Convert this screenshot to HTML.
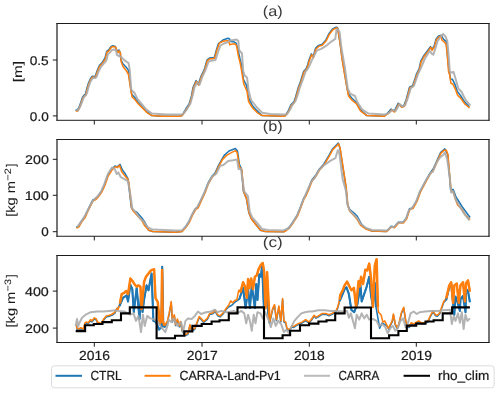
<!DOCTYPE html><html><head><meta charset="utf-8"><style>html,body{margin:0;padding:0;background:#fff;overflow:hidden}svg{display:block}text{text-rendering:geometricPrecision}</style></head><body><svg width="500" height="394" viewBox="0 0 500 394" font-family="Liberation Sans, sans-serif">
<rect width="500" height="394" fill="#fff"/>
<path d="M75.5,109.8 L77.0,110.5 L78.8,107.7 L80.7,102.8 L82.5,97.3 L84.3,94.9 L85.5,94.3 L86.8,88.8 L88.6,82.7 L90.4,78.7 L92.2,76.2 L94.1,76.6 L95.3,76.2 L97.1,70.7 L99.5,65.2 L102.0,62.8 L105.0,58.0 L106.8,51.2 L108.7,50.0 L111.1,46.4 L112.9,45.8 L115.4,46.4 L116.6,50.0 L117.8,51.9 L119.0,50.0 L120.2,52.5 L120.9,59.9 L122.7,63.4 L126.2,67.3 L128.2,69.9 L129.9,82.1 L131.7,94.2 L134.9,97.8 L138.1,102.5 L142.1,106.8 L146.9,111.7 L151.7,115.6 L161.3,116.3 L179.7,116.2 L181.9,115.6 L185.9,108.8 L189.1,104.0 L191.5,96.0 L193.1,87.2 L196.1,80.6 L198.3,84.4 L201.1,76.0 L204.3,69.6 L207.0,60.0 L209.4,58.1 L214.3,57.5 L216.7,49.0 L218.5,43.5 L223.0,40.0 L228.0,38.2 L229.2,38.8 L231.0,41.5 L234.4,42.1 L236.2,43.1 L238.1,50.1 L239.9,58.4 L241.1,62.9 L243.5,79.5 L246.7,85.8 L248.3,97.1 L252.3,105.6 L257.1,110.9 L261.9,115.6 L284.3,116.2 L285.3,115.6 L288.5,110.4 L290.9,104.8 L294.1,101.6 L295.7,96.8 L298.1,88.0 L300.5,81.6 L303.7,71.2 L306.1,68.8 L307.7,64.8 L308.8,60.6 L311.3,53.9 L313.1,57.0 L315.5,48.4 L318.6,45.4 L322.2,44.2 L325.9,39.9 L328.9,33.8 L332.6,28.9 L336.2,27.1 L337.5,27.7 L339.9,41.6 L341.9,57.0 L344.3,71.0 L346.7,86.0 L348.3,93.8 L351.5,97.8 L356.3,102.5 L360.3,109.6 L366.7,115.6 L384.3,116.3 L384.7,115.6 L387.9,112.8 L391.1,109.1 L394.3,111.2 L398.3,103.2 L401.5,106.4 L403.9,105.6 L406.3,99.2 L409.5,87.2 L412.7,85.6 L415.1,78.4 L416.7,73.6 L419.1,68.8 L420.8,61.2 L423.8,55.7 L427.5,50.8 L430.5,46.6 L431.8,49.6 L434.2,46.0 L436.0,39.2 L438.5,36.0 L441.2,35.2 L443.6,39.4 L446.1,41.3 L448.2,64.0 L449.3,72.5 L450.6,78.9 L452.5,79.3 L454.9,84.3 L457.3,91.5 L460.5,95.5 L464.5,101.8 L469.3,106.7" fill="none" stroke="#1f77b4" stroke-width="1.55" stroke-linejoin="round" stroke-linecap="butt"/>
<path d="M76.1,227.4 L78.5,226.3 L81.7,220.7 L84.9,216.7 L87.3,211.1 L90.5,204.7 L92.9,199.9 L95.3,199.1 L97.7,196.7 L101.7,191.1 L104.9,183.9 L107.7,175.7 L111.7,169.3 L114.9,166.1 L117.3,166.9 L118.0,166.0 L120.0,164.4 L122.4,170.0 L125.0,173.5 L128.0,178.8 L130.9,203.7 L131.4,207.6 L133.8,211.3 L136.6,212.0 L141.5,217.4 L144.5,221.7 L148.5,230.2 L152.7,231.5 L174.7,232.2 L181.9,231.5 L185.9,226.3 L189.1,221.5 L192.3,214.3 L195.5,208.7 L197.9,207.1 L201.1,199.9 L204.7,192.3 L207.9,183.5 L211.9,176.3 L215.1,173.1 L218.3,165.9 L222.3,158.7 L224.2,155.4 L229.0,151.0 L235.4,148.5 L237.5,151.0 L239.4,164.2 L241.5,169.1 L243.4,191.1 L246.4,198.4 L248.8,212.5 L251.3,218.6 L255.6,224.1 L260.4,230.2 L265.3,231.5 L283.6,231.7 L285.3,231.0 L289.3,227.1 L293.3,221.5 L297.3,215.1 L300.5,207.1 L303.7,198.3 L305.3,195.9 L308.2,189.5 L311.9,179.9 L315.9,175.1 L319.1,169.5 L323.9,163.9 L328.7,155.9 L332.7,148.7 L335.9,145.5 L338.3,143.1 L339.9,147.9 L343.1,168.7 L346.0,187.3 L347.6,205.2 L349.8,209.5 L353.5,212.5 L357.1,216.0 L362.0,225.0 L365.3,228.3 L371.4,230.9 L386.0,231.5 L387.9,230.2 L391.1,226.3 L394.3,227.1 L398.3,222.3 L403.1,222.3 L406.3,218.3 L409.5,208.7 L412.7,207.9 L416.7,200.7 L420.2,191.3 L424.5,183.1 L429.3,174.3 L433.3,168.7 L437.3,159.9 L440.5,152.7 L444.8,148.9 L447.7,154.3 L449.3,173.5 L450.7,189.6 L453.2,189.6 L456.0,197.0 L462.0,206.5 L466.0,212.0 L470.1,217.5" fill="none" stroke="#1f77b4" stroke-width="1.55" stroke-linejoin="round" stroke-linecap="butt"/>
<path d="M76.4,325.6 L77.0,329.3 L78.8,330.0 L80.7,328.7 L83.2,330.0 L85.1,323.7 L86.3,323.1 L88.2,323.7 L90.7,320.6 L91.9,321.9 L94.4,318.8 L96.3,320.0 L97.5,323.1 L99.4,323.7 L101.2,324.4 L103.7,320.0 L106.2,316.9 L109.3,316.3 L112.4,315.0 L114.9,313.2 L116.5,309.5 L119.5,306.0 L123.0,297.8 L126.7,295.3 L128.0,301.5 L130.4,284.7 L132.3,289.1 L133.8,312.0 L136.7,287.9 L139.5,319.0 L141.0,294.0 L142.5,312.0 L144.0,300.0 L146.6,285.4 L148.5,290.3 L151.6,273.5 L153.4,320.9 L156.0,322.0 L159.0,329.6 L161.5,327.1 L162.2,266.7 L163.3,326.0 L165.0,327.0 L167.5,321.9 L169.4,313.2 L171.2,302.6 L172.5,321.9 L174.3,315.7 L175.6,325.6 L177.4,320.0 L179.3,326.9 L180.5,322.5 L182.4,331.8 L185.5,335.6 L188.0,334.3 L189.9,325.6 L191.7,331.2 L194.9,329.3 L198.0,320.6 L199.2,317.5 L201.7,320.0 L203.6,322.5 L207.3,319.4 L209.8,314.4 L212.9,313.8 L215.1,311.3 L217.6,315.7 L220.1,316.9 L223.2,313.8 L225.7,310.1 L228.5,307.0 L231.9,305.3 L235.0,302.0 L239.4,299.0 L243.1,287.9 L245.6,308.0 L248.1,289.1 L249.9,308.0 L251.8,285.4 L254.9,308.0 L256.2,284.1 L257.5,300.0 L259.3,274.2 L260.9,276.7 L262.1,265.5 L264.0,310.0 L266.5,289.1 L267.7,308.0 L269.6,323.0 L272.7,309.4 L274.5,305.7 L276.4,320.6 L278.9,307.0 L280.8,321.9 L282.6,299.5 L283.9,321.9 L285.7,323.1 L287.0,329.3 L289.5,330.6 L292.0,326.9 L293.8,327.5 L296.3,325.6 L298.8,324.4 L301.9,323.1 L305.6,320.6 L309.0,323.1 L311.6,320.0 L314.1,316.3 L316.0,318.1 L318.4,316.9 L322.2,314.4 L325.9,314.4 L329.0,315.7 L332.1,314.4 L335.9,311.9 L337.7,308.2 L339.6,301.0 L341.4,297.0 L344.6,289.1 L346.4,287.2 L348.9,294.1 L351.4,310.0 L354.2,312.2 L357.4,304.0 L360.5,285.4 L361.7,301.5 L366.7,286.6 L369.2,276.7 L371.0,295.3 L372.9,306.0 L374.8,282.9 L376.0,307.0 L379.7,328.3 L382.0,323.0 L386.6,325.6 L389.1,329.6 L390.3,325.6 L392.2,321.9 L393.4,315.0 L395.3,325.0 L397.2,328.7 L399.0,324.4 L401.5,313.2 L403.7,308.2 L405.6,320.6 L406.8,326.9 L409.3,327.5 L411.2,323.7 L413.7,325.0 L416.2,323.1 L418.7,321.9 L421.1,323.7 L424.9,323.7 L428.0,321.9 L430.5,316.3 L433.0,311.9 L435.4,315.7 L437.3,316.3 L439.8,313.8 L441.7,308.2 L443.7,302.5 L446.2,300.0 L449.3,287.0 L451.2,284.0 L453.1,303.0 L454.3,314.7 L455.5,296.6 L457.0,300.0 L459.9,310.9 L460.5,299.0 L463.0,296.0 L465.5,312.2 L466.1,289.1 L468.0,291.0 L469.9,302.2" fill="none" stroke="#1f77b4" stroke-width="1.55" stroke-linejoin="round" stroke-linecap="butt"/>
<path d="M75.8,110.6 L77.3,111.3 L79.1,108.5 L81.0,103.6 L82.8,98.1 L84.6,95.7 L85.8,95.1 L87.1,89.6 L88.9,83.5 L90.7,79.5 L92.5,77.0 L94.4,77.4 L95.6,77.0 L97.4,71.5 L99.8,66.0 L102.3,63.6 L105.3,58.8 L107.1,52.0 L109.0,50.8 L111.4,47.2 L113.2,46.6 L115.7,47.2 L116.9,50.8 L118.1,52.7 L119.3,50.8 L120.5,53.3 L121.2,61.8 L123.0,66.5 L126.5,71.0 L128.5,74.5 L130.2,86.0 L132.0,96.8 L135.2,100.0 L138.4,104.0 L142.4,108.0 L147.2,112.8 L152.0,115.6 L161.6,116.3 L180.0,116.2 L182.2,115.6 L186.2,109.6 L189.4,104.8 L191.8,96.8 L193.4,88.0 L196.4,81.4 L198.6,85.2 L201.4,76.8 L204.6,70.4 L207.3,60.8 L209.7,58.9 L214.6,58.3 L217.0,49.8 L219.5,43.1 L223.1,41.3 L226.2,40.7 L228.6,40.7 L229.8,44.9 L231.1,44.3 L234.7,43.7 L236.5,45.5 L238.4,55.9 L240.2,63.2 L241.4,69.6 L243.8,84.0 L247.0,91.2 L248.6,101.6 L252.6,108.0 L257.4,112.8 L262.2,115.6 L284.6,116.2 L285.6,115.6 L288.8,111.2 L291.2,105.6 L294.4,102.4 L296.0,97.6 L298.4,88.8 L300.8,82.4 L304.0,72.0 L306.4,69.6 L308.0,65.6 L309.1,61.4 L311.6,54.7 L313.4,57.8 L315.8,49.2 L318.9,46.2 L322.5,45.0 L326.2,40.7 L329.2,34.6 L332.9,29.7 L336.5,27.9 L337.8,28.5 L340.2,44.4 L342.2,60.0 L344.6,74.4 L347.0,88.0 L348.6,96.0 L351.8,100.0 L356.6,104.0 L360.6,111.2 L367.0,115.6 L384.6,116.3 L385.0,115.6 L388.2,113.6 L391.4,109.9 L394.6,112.0 L398.6,104.0 L401.8,107.2 L404.2,106.4 L406.6,100.0 L409.8,88.0 L413.0,86.4 L415.4,79.2 L417.0,74.4 L419.4,69.6 L421.1,62.0 L424.1,56.5 L427.8,51.6 L430.8,47.4 L432.1,50.4 L434.5,46.8 L436.3,40.0 L438.8,37.0 L441.2,35.8 L441.8,40.0 L444.2,41.9 L446.1,44.3 L447.3,54.7 L448.5,71.0 L449.6,74.4 L450.9,83.2 L452.8,84.0 L455.2,88.8 L457.6,95.2 L460.8,98.4 L464.8,104.0 L469.6,108.0" fill="none" stroke="#ff7f0e" stroke-width="1.55" stroke-linejoin="round" stroke-linecap="butt"/>
<path d="M76.4,228.1 L78.8,227.0 L82.0,221.4 L85.2,217.4 L87.6,211.8 L90.8,205.4 L93.2,200.6 L95.6,199.8 L98.0,197.4 L102.0,191.8 L105.2,184.6 L108.0,176.4 L112.0,170.0 L115.2,166.8 L117.6,167.6 L119.5,165.2 L121.6,171.6 L124.0,174.8 L128.0,179.6 L128.8,182.0 L131.2,204.4 L131.7,208.3 L134.1,212.0 L138.4,216.8 L141.5,219.9 L144.5,225.4 L148.8,230.2 L153.0,231.5 L175.0,232.2 L182.2,231.5 L186.2,227.0 L189.4,222.2 L192.6,215.0 L195.8,209.4 L198.2,207.8 L201.4,200.6 L205.0,193.0 L208.2,184.2 L212.2,177.0 L215.4,173.8 L218.6,166.6 L222.6,159.4 L226.6,155.4 L231.4,152.6 L235.4,150.6 L237.0,152.2 L239.4,166.6 L241.8,169.8 L243.7,191.8 L246.7,199.1 L249.1,213.2 L251.6,219.3 L255.9,224.8 L260.7,230.2 L265.6,231.5 L283.9,231.7 L285.6,231.0 L289.6,227.8 L293.6,222.2 L297.6,215.8 L300.8,207.8 L304.0,199.0 L305.6,196.6 L308.5,190.2 L312.2,180.6 L316.2,175.8 L319.4,170.2 L324.2,164.6 L329.0,156.6 L333.0,149.4 L336.2,146.2 L338.6,143.8 L340.2,148.6 L343.4,169.4 L346.3,188.0 L347.9,205.9 L349.8,211.3 L353.4,215.0 L357.1,219.3 L360.7,225.4 L365.6,229.0 L371.7,230.9 L386.3,231.5 L388.2,230.2 L391.4,227.0 L394.6,227.8 L398.6,223.0 L403.4,223.0 L406.6,219.0 L409.8,209.4 L413.0,208.6 L417.0,201.4 L420.5,192.0 L424.8,183.8 L429.6,175.0 L433.6,169.4 L437.6,160.6 L440.8,153.4 L444.0,150.2 L446.4,150.2 L448.0,155.0 L449.6,174.2 L451.0,190.3 L453.2,191.8 L455.4,199.1 L457.6,205.0 L462.0,209.4 L465.0,214.6 L470.1,219.7" fill="none" stroke="#ff7f0e" stroke-width="1.55" stroke-linejoin="round" stroke-linecap="butt"/>
<path d="M76.4,324.6 L77.0,328.3 L78.8,329.0 L80.7,327.7 L83.2,329.0 L85.1,322.7 L86.3,322.1 L88.2,322.7 L90.7,319.6 L91.9,320.9 L94.4,317.8 L96.3,319.0 L97.5,322.1 L99.4,322.7 L101.2,323.4 L103.7,319.0 L106.2,315.9 L109.3,315.3 L112.4,314.0 L114.9,312.2 L116.8,308.4 L118.0,309.7 L119.9,303.5 L121.7,294.1 L124.2,292.8 L126.1,291.0 L128.0,294.1 L130.4,278.5 L132.9,281.6 L134.8,284.7 L136.7,286.6 L138.5,285.4 L140.4,286.6 L141.6,309.1 L144.1,281.6 L146.0,276.7 L148.5,273.5 L151.0,270.4 L154.1,269.2 L155.5,298.0 L157.8,302.2 L159.7,323.4 L161.5,321.0 L162.1,270.0 L162.7,321.0 L164.6,325.9 L167.5,320.9 L169.4,312.2 L171.2,301.6 L172.5,320.9 L174.3,314.7 L175.6,324.6 L177.4,319.0 L179.3,325.9 L180.5,321.5 L182.4,330.8 L185.5,334.6 L188.0,333.3 L189.9,324.6 L191.7,330.2 L194.9,328.3 L198.0,319.6 L199.2,316.5 L201.7,319.0 L203.6,321.5 L207.3,318.4 L209.8,313.4 L212.9,312.8 L215.1,310.3 L217.6,314.7 L220.1,315.9 L223.2,312.8 L225.7,309.1 L228.5,305.5 L230.7,300.9 L232.5,302.8 L235.0,300.3 L236.9,299.7 L238.7,290.3 L240.6,291.6 L243.1,282.3 L245.0,286.6 L246.8,297.8 L248.1,279.1 L249.3,287.9 L251.2,278.5 L253.0,289.1 L254.9,276.7 L256.8,275.4 L258.6,269.2 L260.9,264.8 L262.7,263.0 L264.0,270.4 L265.5,308.0 L267.1,272.3 L269.6,322.1 L272.7,308.4 L274.5,304.7 L276.4,319.6 L278.9,306.0 L280.8,320.9 L282.6,298.5 L283.9,320.9 L285.7,322.1 L287.0,328.3 L289.5,329.6 L292.0,325.9 L293.8,326.5 L296.3,324.6 L298.8,323.4 L301.9,322.1 L305.6,319.6 L309.0,322.1 L311.6,319.0 L314.1,315.3 L316.0,317.1 L318.4,315.9 L322.2,313.4 L325.9,313.4 L329.0,314.7 L332.1,313.4 L335.9,310.9 L337.7,307.2 L339.6,299.7 L340.2,295.3 L342.7,290.3 L344.6,285.4 L347.0,281.6 L349.5,286.6 L351.4,290.3 L353.9,287.9 L356.1,307.0 L358.6,281.0 L359.8,286.6 L361.1,276.7 L363.0,284.1 L365.4,269.8 L367.3,270.4 L369.2,263.6 L371.0,277.9 L372.9,307.0 L374.8,265.5 L376.6,259.2 L377.9,307.0 L378.5,312.2 L381.0,314.7 L382.9,322.1 L384.7,320.9 L386.6,324.6 L388.4,328.3 L390.3,324.6 L392.2,320.9 L393.4,314.0 L395.3,324.0 L397.2,327.7 L399.0,323.4 L401.5,312.2 L403.7,307.2 L405.6,319.6 L406.8,325.9 L409.3,326.5 L411.2,322.7 L413.7,324.0 L416.2,322.1 L418.7,320.9 L421.1,322.7 L424.9,322.7 L428.0,320.9 L430.5,315.3 L433.0,310.9 L435.4,314.7 L437.3,315.3 L439.8,312.8 L441.7,307.2 L443.7,301.5 L446.2,298.4 L449.3,285.4 L451.2,282.3 L453.1,302.8 L454.3,285.4 L456.8,283.5 L458.7,302.8 L460.5,285.4 L463.0,282.3 L464.9,301.5 L466.1,282.9 L468.0,280.4 L469.9,291.6" fill="none" stroke="#ff7f0e" stroke-width="1.55" stroke-linejoin="round" stroke-linecap="butt"/>
<path d="M119.5,306.0 L123.0,297.8 L126.7,295.3 L128.0,301.5 L130.4,284.7 L132.3,289.1 L133.8,312.0 L136.7,287.9 L139.5,319.0 L141.0,294.0 L142.5,312.0 L144.0,300.0 L146.6,285.4 L148.5,290.3 L151.6,273.5 L153.4,320.9 L156.0,322.0 L159.0,329.6 L161.5,327.1 L162.2,266.7 L163.3,326.0 L165.0,327.0" fill="none" stroke="#1f77b4" stroke-width="2.1" stroke-linejoin="round" stroke-linecap="butt"/>
<path d="M239.4,299.0 L243.1,287.9 L245.6,308.0 L248.1,289.1 L249.9,308.0 L251.8,285.4 L254.9,308.0 L256.2,284.1 L257.5,300.0 L259.3,274.2 L260.9,276.7 L262.1,265.5 L264.0,310.0 L266.5,289.1 L267.7,308.0 L269.6,323.0" fill="none" stroke="#1f77b4" stroke-width="2.1" stroke-linejoin="round" stroke-linecap="butt"/>
<path d="M339.6,301.0 L341.4,297.0 L344.6,289.1 L346.4,287.2 L348.9,294.1 L351.4,310.0 L354.2,312.2 L357.4,304.0 L360.5,285.4 L361.7,301.5 L366.7,286.6 L369.2,276.7 L371.0,295.3 L372.9,306.0 L374.8,282.9 L376.0,307.0" fill="none" stroke="#1f77b4" stroke-width="2.1" stroke-linejoin="round" stroke-linecap="butt"/>
<path d="M446.2,300.0 L449.3,287.0 L451.2,284.0 L453.1,303.0 L454.3,314.7 L455.5,296.6 L457.0,300.0 L459.9,310.9 L460.5,299.0 L463.0,296.0 L465.5,312.2 L466.1,289.1 L468.0,291.0 L469.9,302.2" fill="none" stroke="#1f77b4" stroke-width="2.1" stroke-linejoin="round" stroke-linecap="butt"/>
<path d="M119.9,303.5 L121.7,294.1 L124.2,292.8 L126.1,291.0 L128.0,294.1 L130.4,278.5 L132.9,281.6 L134.8,284.7 L136.7,286.6 L138.5,285.4 L140.4,286.6 L141.6,309.1 L144.1,281.6 L146.0,276.7 L148.5,273.5 L151.0,270.4 L154.1,269.2 L155.5,298.0 L157.8,302.2 L159.7,323.4 L161.5,321.0 L162.1,270.0 L162.7,321.0 L164.6,325.9" fill="none" stroke="#ff7f0e" stroke-width="2.5" stroke-linejoin="round" stroke-linecap="butt"/>
<path d="M238.7,290.3 L240.6,291.6 L243.1,282.3 L245.0,286.6 L246.8,297.8 L248.1,279.1 L249.3,287.9 L251.2,278.5 L253.0,289.1 L254.9,276.7 L256.8,275.4 L258.6,269.2 L260.9,264.8 L262.7,263.0 L264.0,270.4 L265.5,308.0 L267.1,272.3 L269.6,322.1" fill="none" stroke="#ff7f0e" stroke-width="2.5" stroke-linejoin="round" stroke-linecap="butt"/>
<path d="M339.6,299.7 L340.2,295.3 L342.7,290.3 L344.6,285.4 L347.0,281.6 L349.5,286.6 L351.4,290.3 L353.9,287.9 L356.1,307.0 L358.6,281.0 L359.8,286.6 L361.1,276.7 L363.0,284.1 L365.4,269.8 L367.3,270.4 L369.2,263.6 L371.0,277.9 L372.9,307.0 L374.8,265.5 L376.6,259.2 L377.9,307.0" fill="none" stroke="#ff7f0e" stroke-width="2.5" stroke-linejoin="round" stroke-linecap="butt"/>
<path d="M446.2,298.4 L449.3,285.4 L451.2,282.3 L453.1,302.8 L454.3,285.4 L456.8,283.5 L458.7,302.8 L460.5,285.4 L463.0,282.3 L464.9,301.5 L466.1,282.9 L468.0,280.4 L469.9,291.6" fill="none" stroke="#ff7f0e" stroke-width="2.5" stroke-linejoin="round" stroke-linecap="butt"/>
<path d="M76.5,110.1 L78.0,110.4 L80.0,107.0 L82.0,102.1 L83.8,97.2 L85.6,95.4 L87.0,92.9 L88.3,87.8 L90.0,82.6 L91.8,79.3 L93.5,77.7 L95.5,78.0 L96.8,76.4 L98.5,71.6 L101.0,66.9 L103.3,64.1 L106.3,60.5 L108.0,54.0 L110.0,52.5 L112.0,50.0 L114.0,49.5 L116.0,50.5 L116.9,55.0 L121.2,57.0 L124.8,60.6 L128.5,63.0 L129.7,69.6 L131.2,89.6 L134.4,92.8 L137.6,99.2 L141.6,104.0 L146.4,109.6 L152.0,113.6 L166.4,114.4 L180.0,114.5 L183.0,114.3 L187.0,109.1 L190.5,103.3 L193.0,94.0 L194.5,87.2 L197.2,82.5 L199.5,84.8 L202.3,76.8 L205.5,70.0 L208.5,61.9 L211.0,60.7 L215.5,60.0 L218.0,52.0 L220.5,45.5 L224.0,43.5 L227.0,42.5 L229.2,40.7 L236.5,39.4 L238.4,41.3 L239.0,49.8 L242.0,53.5 L243.2,71.0 L244.6,75.2 L247.0,77.6 L248.6,90.4 L251.0,100.0 L257.4,108.0 L262.2,112.8 L270.2,114.0 L284.6,114.5 L287.0,114.3 L290.0,109.8 L292.5,104.8 L295.5,101.0 L297.5,95.3 L300.0,87.1 L302.5,80.5 L305.5,71.8 L308.0,68.5 L309.7,65.1 L312.8,58.2 L317.0,50.4 L321.3,48.9 L325.6,46.2 L331.7,41.3 L335.3,38.9 L336.5,29.7 L337.8,29.1 L339.6,32.2 L341.4,48.0 L344.6,66.0 L347.8,88.8 L350.2,93.6 L355.0,96.0 L357.4,102.4 L362.2,109.6 L368.6,113.6 L384.6,114.5 L386.0,114.3 L389.2,112.8 L392.4,109.9 L395.6,111.0 L399.6,104.0 L402.8,106.6 L405.2,105.2 L407.6,98.7 L410.8,88.2 L414.0,85.7 L416.4,78.7 L418.0,74.1 L420.5,68.8 L424.7,59.0 L429.6,50.9 L432.1,54.0 L433.3,54.7 L435.1,49.2 L437.5,41.3 L440.0,37.6 L443.0,34.0 L445.5,36.4 L447.3,41.3 L448.5,53.5 L449.7,71.0 L451.2,72.8 L453.6,72.0 L455.2,77.6 L458.4,88.8 L461.6,92.0 L465.6,100.0 L470.4,105.6" fill="none" stroke="#a9a9a9" stroke-width="2.0" stroke-linejoin="round" stroke-linecap="butt" stroke-opacity="0.88"/>
<path d="M77.2,227.2 L82.8,219.4 L87.6,210.7 L91.6,202.7 L94.0,199.6 L97.2,196.8 L101.2,191.3 L104.2,184.3 L108.0,173.9 L112.0,167.6 L114.4,168.4 L116.8,174.0 L118.4,172.4 L120.8,177.2 L124.0,178.8 L128.0,181.2 L130.4,194.8 L132.3,208.3 L136.0,212.6 L140.2,218.7 L143.3,221.1 L147.6,227.2 L152.4,229.6 L175.0,230.6 L182.0,230.3 L185.5,227.0 L188.5,222.4 L191.5,215.7 L194.5,210.0 L197.0,207.4 L200.2,201.4 L204.0,193.5 L208.2,183.5 L212.2,176.6 L216.2,173.7 L220.2,165.8 L223.4,165.0 L228.2,161.0 L233.0,160.2 L237.0,159.4 L238.6,169.0 L241.0,169.0 L244.2,191.4 L247.9,196.1 L249.8,212.0 L252.2,217.4 L257.1,222.9 L262.0,229.0 L268.0,230.0 L282.7,230.6 L288.8,228.2 L292.6,222.7 L296.6,216.3 L299.8,208.8 L303.0,200.3 L305.0,196.0 L311.4,181.4 L314.6,178.3 L318.6,170.6 L324.2,165.1 L330.6,160.6 L335.4,158.2 L337.8,150.2 L339.4,153.4 L342.6,179.0 L345.8,190.2 L347.5,204.5 L349.5,210.0 L353.0,214.0 L357.0,218.0 L361.0,224.0 L366.0,228.0 L372.0,230.0 L386.3,230.6 L388.0,229.8 L391.0,226.8 L394.0,227.1 L398.0,222.7 L403.0,222.3 L406.0,218.7 L409.0,210.1 L412.0,208.0 L416.0,201.8 L420.0,191.2 L426.4,179.7 L431.2,172.3 L432.8,171.8 L436.8,162.2 L440.0,157.4 L443.2,155.0 L444.8,152.6 L447.2,159.0 L449.6,175.8 L451.2,192.6 L452.8,191.0 L456.2,200.6 L462.8,211.6 L469.4,220.4" fill="none" stroke="#a9a9a9" stroke-width="2.0" stroke-linejoin="round" stroke-linecap="butt" stroke-opacity="0.88"/>
<path d="M75.7,325.9 L77.0,319.0 L78.2,326.5 L79.5,322.7 L82.0,317.8 L85.7,314.7 L90.7,312.2 L96.9,311.5 L103.1,311.5 L109.3,310.9 L115.5,310.3 L118.0,310.9 L124.2,311.5 L130.4,314.7 L133.5,313.4 L136.0,320.9 L138.5,315.9 L141.0,332.1 L142.9,314.7 L144.7,325.9 L147.2,315.9 L150.3,318.4 L154.7,319.6 L157.8,322.1 L160.3,325.9 L165.3,332.1 L167.8,324.6 L168.7,319.6 L171.2,322.1 L173.7,318.4 L177.4,325.9 L181.2,322.1 L183.0,332.1 L185.5,320.9 L188.0,318.4 L191.7,319.0 L194.9,315.9 L198.0,311.5 L201.1,314.0 L206.0,312.2 L211.0,311.5 L215.0,309.7 L217.0,312.2 L221.3,310.9 L226.9,312.2 L233.8,310.9 L238.1,312.8 L241.2,310.9 L244.3,313.4 L246.2,323.4 L248.1,314.7 L249.9,320.9 L251.8,330.8 L253.7,314.7 L255.5,323.4 L257.4,312.2 L260.5,313.4 L262.7,318.4 L265.0,312.0 L269.0,320.9 L270.8,327.1 L273.3,318.4 L275.8,325.9 L278.3,320.9 L281.4,324.6 L283.9,332.1 L286.4,329.6 L288.9,333.3 L291.3,327.1 L294.4,320.9 L297.6,317.1 L301.3,313.4 L305.0,312.2 L309.0,311.5 L312.2,311.5 L318.4,310.3 L324.7,310.3 L330.9,310.9 L337.1,310.9 L343.3,311.5 L347.0,310.9 L348.9,317.8 L350.8,313.4 L353.3,322.1 L354.9,328.3 L356.7,314.7 L359.2,319.6 L361.7,313.4 L364.2,318.4 L366.7,314.7 L369.2,319.6 L372.9,319.0 L376.6,320.9 L379.1,325.9 L382.2,324.0 L385.3,327.1 L387.8,333.3 L390.3,328.3 L392.8,325.9 L395.3,330.8 L397.8,328.3 L400.3,320.9 L403.1,318.4 L405.6,327.1 L407.5,324.6 L410.6,313.4 L413.7,311.5 L416.8,314.0 L419.9,312.2 L424.9,311.5 L431.1,310.9 L437.3,310.9 L443.5,310.3 L450.0,309.7 L451.8,324.0 L453.7,315.9 L455.5,320.9 L458.0,313.4 L459.9,322.7 L461.8,312.2 L463.6,329.0 L465.5,314.7 L467.4,320.9 L469.9,318.4" fill="none" stroke="#a9a9a9" stroke-width="2.0" stroke-linejoin="round" stroke-linecap="butt" stroke-opacity="0.88"/>
<path d="M75.7,331.1 L85.1,331.1 L85.1,325.2 L93.8,325.2 L93.8,324.0 L102.5,324.0 L102.5,322.1 L111.8,322.1 L111.8,320.3 L121.0,320.3 L121.0,313.4 L129.8,313.4 L129.8,307.4 L156.6,307.4 L156.6,338.3 L175.0,338.3 L175.0,335.8 L184.3,335.8 L184.3,331.4 L192.4,331.4 L192.4,325.9 L201.7,325.9 L201.7,324.0 L211.6,324.0 L211.6,321.5 L219.5,321.5 L219.5,320.3 L228.8,320.3 L228.8,313.4 L237.5,313.4 L237.5,307.4 L264.0,307.4 L264.0,338.3 L282.6,338.3 L282.6,335.2 L290.1,335.2 L290.1,330.8 L300.0,330.8 L300.0,325.2 L309.1,325.2 L309.1,323.6 L318.4,323.6 L318.4,321.5 L326.5,321.5 L326.5,320.3 L335.2,320.3 L335.2,313.4 L344.6,313.4 L344.6,307.5 L371.0,307.5 L371.0,338.3 L389.1,338.3 L389.1,335.2 L398.4,335.2 L398.4,331.0 L406.8,331.0 L406.8,325.6 L416.2,325.6 L416.2,323.6 L425.5,323.6 L425.5,321.5 L433.6,321.5 L433.6,320.3 L442.7,320.3 L442.7,313.4 L452.1,313.4 L452.1,307.4 L469.9,307.4" fill="none" stroke="#000" stroke-width="2.1" stroke-linejoin="miter"/>
<g style="will-change:transform" stroke-width="0.22">
<path d="M57.0,23.5H489.0M57.0,120.3H489.0" stroke="#1c1c1c" stroke-width="1.0" stroke-linecap="square"/>
<path d="M57.0,23.0V120.8M489.0,23.0V120.8" stroke="#1c1c1c" stroke-width="1.2"/>
<line x1="94.3" y1="120.3" x2="94.3" y2="124.50" stroke="#1c1c1c" stroke-width="1.0"/>
<line x1="202.0" y1="120.3" x2="202.0" y2="124.50" stroke="#1c1c1c" stroke-width="1.0"/>
<line x1="309.3" y1="120.3" x2="309.3" y2="124.50" stroke="#1c1c1c" stroke-width="1.0"/>
<line x1="416.3" y1="120.3" x2="416.3" y2="124.50" stroke="#1c1c1c" stroke-width="1.0"/>
<line x1="52.80" y1="115.9" x2="57.0" y2="115.9" stroke="#1c1c1c" stroke-width="1.0"/>
<text x="29.86" y="120.62" font-size="12.68" textLength="18.89" lengthAdjust="spacingAndGlyphs" fill="#1a1a1a" stroke="#1a1a1a">0.0</text>
<line x1="52.80" y1="60.0" x2="57.0" y2="60.0" stroke="#1c1c1c" stroke-width="1.0"/>
<text x="29.65" y="64.72" font-size="12.68" textLength="19.10" lengthAdjust="spacingAndGlyphs" fill="#1a1a1a" stroke="#1a1a1a">0.5</text>
<text x="262.82" y="16.07" font-size="14.44" textLength="19.89" lengthAdjust="spacingAndGlyphs" fill="#1a1a1a" stroke="#1a1a1a" stroke-width="0" style="fill:#3a3a3a">(a)</text>
<path d="M57.0,139.5H489.0M57.0,236.25H489.0" stroke="#1c1c1c" stroke-width="1.0" stroke-linecap="square"/>
<path d="M57.0,139.0V236.75M489.0,139.0V236.75" stroke="#1c1c1c" stroke-width="1.2"/>
<line x1="94.3" y1="236.25" x2="94.3" y2="240.45" stroke="#1c1c1c" stroke-width="1.0"/>
<line x1="202.0" y1="236.25" x2="202.0" y2="240.45" stroke="#1c1c1c" stroke-width="1.0"/>
<line x1="309.3" y1="236.25" x2="309.3" y2="240.45" stroke="#1c1c1c" stroke-width="1.0"/>
<line x1="416.3" y1="236.25" x2="416.3" y2="240.45" stroke="#1c1c1c" stroke-width="1.0"/>
<line x1="52.80" y1="231.7" x2="57.0" y2="231.7" stroke="#1c1c1c" stroke-width="1.0"/>
<text x="41.26" y="236.42" font-size="12.68" textLength="7.49" lengthAdjust="spacingAndGlyphs" fill="#1a1a1a" stroke="#1a1a1a">0</text>
<line x1="52.80" y1="195.3" x2="57.0" y2="195.3" stroke="#1c1c1c" stroke-width="1.0"/>
<text x="24.72" y="200.02" font-size="12.68" textLength="24.11" lengthAdjust="spacingAndGlyphs" fill="#1a1a1a" stroke="#1a1a1a">100</text>
<line x1="52.80" y1="159.3" x2="57.0" y2="159.3" stroke="#1c1c1c" stroke-width="1.0"/>
<text x="25.09" y="164.02" font-size="12.68" textLength="23.73" lengthAdjust="spacingAndGlyphs" fill="#1a1a1a" stroke="#1a1a1a">200</text>
<text x="262.82" y="131.37" font-size="14.44" textLength="19.89" lengthAdjust="spacingAndGlyphs" fill="#1a1a1a" stroke="#1a1a1a" stroke-width="0" style="fill:#3a3a3a">(b)</text>
<path d="M57.0,255.5H489.0M57.0,342.5H489.0" stroke="#1c1c1c" stroke-width="1.0" stroke-linecap="square"/>
<path d="M57.0,255.0V343.0M489.0,255.0V343.0" stroke="#1c1c1c" stroke-width="1.2"/>
<line x1="94.3" y1="342.5" x2="94.3" y2="346.70" stroke="#1c1c1c" stroke-width="1.0"/>
<line x1="202.0" y1="342.5" x2="202.0" y2="346.70" stroke="#1c1c1c" stroke-width="1.0"/>
<line x1="309.3" y1="342.5" x2="309.3" y2="346.70" stroke="#1c1c1c" stroke-width="1.0"/>
<line x1="416.3" y1="342.5" x2="416.3" y2="346.70" stroke="#1c1c1c" stroke-width="1.0"/>
<line x1="52.80" y1="328.1" x2="57.0" y2="328.1" stroke="#1c1c1c" stroke-width="1.0"/>
<text x="25.09" y="332.82" font-size="12.68" textLength="23.73" lengthAdjust="spacingAndGlyphs" fill="#1a1a1a" stroke="#1a1a1a">200</text>
<line x1="52.80" y1="291.1" x2="57.0" y2="291.1" stroke="#1c1c1c" stroke-width="1.0"/>
<text x="24.94" y="295.82" font-size="12.68" textLength="23.88" lengthAdjust="spacingAndGlyphs" fill="#1a1a1a" stroke="#1a1a1a">400</text>
<text x="262.77" y="246.97" font-size="14.44" textLength="19.97" lengthAdjust="spacingAndGlyphs" fill="#1a1a1a" stroke="#1a1a1a" stroke-width="0" style="fill:#3a3a3a">(c)</text>
<text x="79.01" y="360.27" font-size="13.24" textLength="30.92" lengthAdjust="spacingAndGlyphs" fill="#1a1a1a" stroke="#1a1a1a">2016</text>
<text x="186.70" y="360.27" font-size="13.24" textLength="30.99" lengthAdjust="spacingAndGlyphs" fill="#1a1a1a" stroke="#1a1a1a">2017</text>
<text x="294.01" y="360.27" font-size="13.24" textLength="30.84" lengthAdjust="spacingAndGlyphs" fill="#1a1a1a" stroke="#1a1a1a">2018</text>
<text x="401.01" y="360.27" font-size="13.24" textLength="30.92" lengthAdjust="spacingAndGlyphs" fill="#1a1a1a" stroke="#1a1a1a">2019</text>
<g transform="translate(21.5,81.1) rotate(-90)" stroke-width="0.05"><text x="-1.07" y="0" font-size="12.5" textLength="21.19" lengthAdjust="spacingAndGlyphs" fill="#1a1a1a" stroke="#1a1a1a">[m]</text></g>
<g transform="translate(15.4,215.8) rotate(-90)" stroke-width="0.05"><text x="-1.03" y="0" font-size="12.5" textLength="35.85" lengthAdjust="spacingAndGlyphs" fill="#1a1a1a" stroke="#1a1a1a">[kg m</text><text x="35.05" y="-4.3" font-size="9.3" textLength="12.50" lengthAdjust="spacingAndGlyphs" fill="#1a1a1a" stroke="#1a1a1a">−2</text><text x="48.77" y="0" font-size="12.5" fill="#1a1a1a" stroke="#1a1a1a">]</text></g>
<g transform="translate(15.4,326.5) rotate(-90)" stroke-width="0.05"><text x="-1.03" y="0" font-size="12.5" textLength="35.85" lengthAdjust="spacingAndGlyphs" fill="#1a1a1a" stroke="#1a1a1a">[kg m</text><text x="35.05" y="-4.3" font-size="9.3" textLength="12.44" lengthAdjust="spacingAndGlyphs" fill="#1a1a1a" stroke="#1a1a1a">−3</text><text x="48.77" y="0" font-size="12.5" fill="#1a1a1a" stroke="#1a1a1a">]</text></g>
<rect x="51.5" y="365.8" width="442.6" height="22.0" rx="2.6" fill="#fff" stroke="#dcdcdc" stroke-width="1"/>
<line x1="55.5" y1="375.8" x2="82" y2="375.8" stroke="#1f77b4" stroke-width="2.0"/>
<text x="90.40" y="379.8" font-size="13.2" textLength="31.38" lengthAdjust="spacingAndGlyphs" fill="#1a1a1a" stroke="#1a1a1a">CTRL</text>
<line x1="144.6" y1="375.8" x2="170.6" y2="375.8" stroke="#ff7f0e" stroke-width="2.0"/>
<text x="179.38" y="379.8" font-size="13.2" textLength="101.24" lengthAdjust="spacingAndGlyphs" fill="#1a1a1a" stroke="#1a1a1a">CARRA-Land-Pv1</text>
<line x1="304" y1="375.8" x2="330" y2="375.8" stroke="#a9a9a9" stroke-opacity="0.8" stroke-width="2.0"/>
<text x="338.41" y="379.8" font-size="13.2" textLength="40.99" lengthAdjust="spacingAndGlyphs" fill="#1a1a1a" stroke="#1a1a1a">CARRA</text>
<line x1="403.6" y1="375.8" x2="430" y2="375.8" stroke="#000" stroke-width="2.0"/>
<text x="437.92" y="379.8" font-size="13.2" textLength="51.32" lengthAdjust="spacingAndGlyphs" fill="#1a1a1a" stroke="#1a1a1a">rho_clim</text>
</g></svg></body></html>
